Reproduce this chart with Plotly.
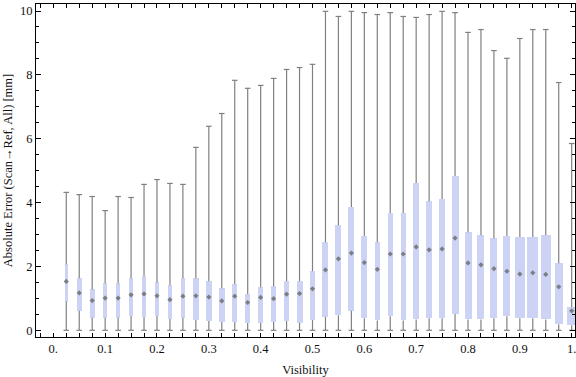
import plotly.graph_objects as go

# ---- data ----
visibility = [0.025, 0.05, 0.075, 0.1, 0.125, 0.15, 0.175, 0.2, 0.225, 0.25,
              0.275, 0.3, 0.325, 0.35, 0.375, 0.4, 0.425, 0.45, 0.475, 0.5,
              0.525, 0.55, 0.575, 0.6, 0.625, 0.65, 0.675, 0.7, 0.725, 0.75,
              0.775, 0.8, 0.825, 0.85, 0.875, 0.9, 0.925, 0.95, 0.975, 1.0]

err_min = [0.0] * 40

err_q1 = [0.90, 0.61, 0.39, 0.39, 0.39, 0.45, 0.42, 0.45, 0.35, 0.39,
          0.32, 0.29, 0.26, 0.26, 0.23, 0.23, 0.26, 0.29, 0.23, 0.32,
          0.42, 0.47, 0.61, 0.38, 0.31, 0.44, 0.31, 0.34, 0.38, 0.38,
          0.51, 0.34, 0.34, 0.38, 0.44, 0.38, 0.38, 0.34, 0.19, 0.16]

err_median = [1.53, 1.17, 0.93, 1.01, 1.01, 1.11, 1.14, 1.08, 0.96, 1.07,
              1.08, 1.04, 0.92, 1.07, 0.87, 1.03, 0.99, 1.13, 1.15, 1.30,
              1.89, 2.24, 2.42, 2.12, 1.91, 2.39, 2.39, 2.61, 2.52, 2.55,
              2.89, 2.11, 2.05, 1.93, 1.85, 1.76, 1.80, 1.75, 1.36, 0.61]

err_q3 = [2.07, 1.63, 1.28, 1.47, 1.47, 1.63, 1.69, 1.50, 1.41, 1.63,
          1.63, 1.54, 1.32, 1.44, 1.13, 1.35, 1.38, 1.54, 1.54, 1.85,
          2.76, 3.29, 3.86, 2.95, 2.76, 3.67, 3.67, 4.61, 4.04, 4.11,
          4.83, 3.07, 2.98, 2.88, 2.95, 2.92, 2.92, 2.98, 2.10, 0.72]

err_max = [4.32, 4.25, 4.19, 3.75, 4.19, 4.16, 4.57, 4.72, 4.60, 4.57,
           5.73, 6.39, 6.79, 7.83, 7.58, 7.67, 7.89, 8.17, 8.23, 8.33,
           9.99, 9.83, 9.99, 9.95, 9.89, 9.95, 9.83, 9.80, 9.89, 9.99,
           9.95, 9.33, 9.42, 8.76, 8.52, 9.14, 9.42, 9.42, 7.76, 5.85]

# relative box widths (in visibility units)
box_width = [0.0068, 0.0090, 0.0097, 0.0085, 0.0068, 0.0085, 0.0080, 0.0078, 0.0078, 0.0088,
             0.0116, 0.0116, 0.0116, 0.0097, 0.0097, 0.0097, 0.0097, 0.0097, 0.0116, 0.0097,
             0.0116, 0.0116, 0.0116, 0.0116, 0.0087, 0.0097, 0.0097, 0.0116, 0.0116, 0.0116,
             0.0135, 0.0135, 0.0135, 0.0135, 0.0135, 0.0193, 0.0212, 0.0193, 0.0154, 0.0174]

x_tick_vals = [0.0, 0.1, 0.2, 0.3, 0.4, 0.5, 0.6, 0.7, 0.8, 0.9, 1.0]
x_tick_text = ["0.", "0.1", "0.2", "0.3", "0.4", "0.5", "0.6", "0.7", "0.8", "0.9", "1."]
y_tick_vals = [0, 2, 4, 6, 8, 10]
y_tick_text = ["0", "2", "4", "6", "8", "10"]

# ---- styles ----
BOX_FILL = "rgb(204,211,245)"
WHISKER = "rgb(128,128,128)"
MEDIAN = "rgba(110,110,110,0.85)"
FONT = "Liberation Serif"

# whisker segments: min -> q1 and q3 -> max
wx, wy = [], []
for v, lo, a, b, hi in zip(visibility, err_min, err_q1, err_q3, err_max):
    wx += [v, v, None, v, v, None]
    wy += [lo, a, None, b, hi, None]

fig = go.Figure()

fig.add_trace(go.Bar(
    x=visibility,
    y=[b - a for a, b in zip(err_q1, err_q3)],
    base=err_q1,
    width=box_width,
    marker=dict(color=BOX_FILL, line=dict(width=0)),
    hoverinfo="skip",
    showlegend=False,
))

fig.add_trace(go.Scatter(
    x=wx, y=wy, mode="lines",
    line=dict(color=WHISKER, width=1.2),
    hoverinfo="skip", showlegend=False,
))

fig.add_trace(go.Scatter(
    x=visibility + visibility,
    y=err_max + err_min,
    mode="markers",
    marker=dict(symbol="line-ew", size=4, line=dict(color=WHISKER, width=1.2)),
    hoverinfo="skip", showlegend=False,
))

fig.add_trace(go.Scatter(
    x=visibility, y=err_median, mode="markers",
    marker=dict(symbol="diamond", size=4, color=MEDIAN, line=dict(width=0)),
    showlegend=False,
))

fig.update_layout(
    width=576, height=377,
    margin=dict(l=36, r=1, t=4, b=40),
    paper_bgcolor="white", plot_bgcolor="white",
    font=dict(family=FONT, size=12, color="#111"),
    bargap=0,
)

fig.update_xaxes(
    automargin=False,
    range=[-0.0334, 1.0064],
    tickmode="array", tickvals=x_tick_vals, ticktext=x_tick_text,
    ticks="inside", ticklen=4, tickwidth=1, tickcolor="black",
    minor=dict(tickmode="linear", tick0=0, dtick=0.025, ticks="inside",
               ticklen=4, tickwidth=1, tickcolor="black"),
    showline=True, linecolor="black", linewidth=1, mirror="ticks",
    showgrid=False, zeroline=False,
    ticklabeloverflow="allow",
    tickfont=dict(family=FONT, size=12.5),
    title=dict(text="Visibility", font=dict(family=FONT, size=12.5), standoff=12),
)

fig.update_yaxes(
    automargin=False,
    range=[-0.21, 10.22],
    tickmode="array", tickvals=y_tick_vals, ticktext=y_tick_text,
    ticks="inside", ticklen=5, tickwidth=1, tickcolor="black",
    minor=dict(tickmode="linear", tick0=0, dtick=0.5, ticks="inside",
               ticklen=3, tickwidth=1, tickcolor="black"),
    showline=True, linecolor="black", linewidth=1, mirror="ticks",
    showgrid=False, zeroline=False,
    tickfont=dict(family=FONT, size=12.5),
    title=dict(text="Absolute Error (Scan→Ref, All) [mm]",
               font=dict(family=FONT, size=12.5), standoff=4),
)

fig.write_html(
    "out.html",
    config={"displayModeBar": False},
    post_script="document.body.style.margin='0';document.body.style.overflow='hidden';",
)
